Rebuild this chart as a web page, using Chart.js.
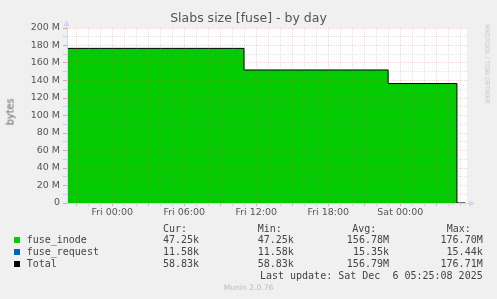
<!DOCTYPE html>
<html>
<head>
<meta charset="utf-8">
<script src="https://cdn.jsdelivr.net/npm/chart.js@4.4.1/dist/chart.umd.min.js"></script>
<style>
  html, body { margin: 0; padding: 0; background: #f0f0f0; }
  #wrap { position: relative; width: 497px; height: 299px; overflow: hidden; }
  #chart { position: absolute; left: 0; top: 0; }
  .txt { position: absolute; white-space: pre; font-family: "DejaVu Sans", sans-serif; color: #555; }
  .mono { position: absolute; white-space: pre; font-family: "DejaVu Sans Mono", monospace; font-size: 10px; line-height: 12px; color: #444; }
  .sw { position: absolute; width: 6px; height: 6px; left: 14px; }
</style>
</head>
<body>
<div id="wrap">
  <canvas id="chart" width="497" height="299"></canvas>
  <div class="txt" style="left:0;width:497px;top:10px;text-align:center;font-size:12.5px;line-height:15px;">Slabs size [fuse] - by day</div>
  <div class="txt" style="left:10px;top:112px;font-size:9.7px;color:#666;transform:translate(-50%,-50%) rotate(-90deg);">bytes</div>
  <div class="txt" style="left:487px;top:64px;font-size:6.8px;color:#c8c8c8;font-family:'DejaVu Sans Condensed','DejaVu Sans',sans-serif;font-stretch:condensed;transform:translate(-50%,-50%) rotate(90deg);">RRDTOOL / TOBI OETIKER</div>
  <div id="legend"></div>
  <div class="txt" style="left:0;width:497px;top:283px;text-align:center;font-size:7.6px;line-height:10px;color:#bbb;">Munin 2.0.76</div>
</div>
<script>
// time axis in hours, 0 = Fri 00:00
const hours = [-3.775, 10.98, 22.99, 28.72, 29.42];
const fuseInode = [176.70e6, 152.0e6, 136.5e6, 47.25e3, 47.25e3];
const fuseRequest = [15.44e3, 15.35e3, 15.30e3, 11.58e3, 11.58e3];
const totalBytes = [176.71e6, 152.02e6, 136.52e6, 58.83e3, 58.83e3];

const xTickHours = [0, 6, 12, 18, 24];
const xTickLabels = ['Fri 00:00', 'Fri 06:00', 'Fri 12:00', 'Fri 18:00', 'Sat 00:00'];

// legend table
const seriesNames = ['fuse_inode', 'fuse_request', 'Total'];
const seriesColors = ['#00cc00', '#0066b3', '#000000'];
const curVals = ['47.25k', '11.58k', '58.83k'];
const minVals = ['47.25k', '11.58k', '58.83k'];
const avgVals = ['156.78M', '15.35k', '156.79M'];
const maxVals = ['176.70M', '15.44k', '176.71M'];
const lastUpdate = 'Last update: Sat Dec  6 05:25:08 2025';

const MGRID = 'rgba(230,70,70,0.22)';
const GRID = 'rgba(130,130,130,0.22)';
const AXIS = '#cfd6f8';

function pts(vals) {
    return hours.map((h, i) => ({ x: h, y: vals[i] }));
}

// legend built as plain text
const legend = document.getElementById('legend');
function cell(text, css) {
    const d = document.createElement('div');
    d.className = 'mono';
    d.style.cssText = css;
    d.textContent = text;
    legend.appendChild(d);
}
cell('Cur:', 'left:163px;top:222.5px;');
cell('Min:', 'left:257.7px;top:222.5px;');
cell('Avg:', 'left:352.3px;top:222.5px;');
cell('Max:', 'left:446.7px;top:222.5px;');
seriesNames.forEach((name, i) => {
    const top = 233.5 + i * 12;
    const sw = document.createElement('div');
    sw.className = 'sw';
    sw.style.top = (top + 3.5) + 'px';
    sw.style.background = seriesColors[i];
    legend.appendChild(sw);
    cell(name, 'left:26.7px;top:' + top + 'px;');
    cell(curVals[i], 'left:163px;top:' + top + 'px;');
    cell(minVals[i], 'left:257.7px;top:' + top + 'px;');
    cell(avgVals[i], 'right:108px;top:' + top + 'px;');
    cell(maxVals[i], 'right:14.3px;top:' + top + 'px;');
});
cell(lastUpdate, 'right:14.3px;top:270px;');

// white canvas behind the plot + axis arrows
const plotDeco = {
    id: 'plotDeco',
    beforeDraw(chart) {
        const { ctx, chartArea: a } = chart;
        ctx.save();
        ctx.fillStyle = '#ffffff';
        ctx.fillRect(a.left, a.top, a.right - a.left, a.bottom - a.top);
        ctx.restore();
    },
    afterDraw(chart) {
        const { ctx, chartArea: a } = chart;
        ctx.save();
        ctx.strokeStyle = AXIS;
        ctx.fillStyle = AXIS;
        ctx.lineWidth = 1;
        ctx.beginPath();
        ctx.moveTo(a.left - 0.5, a.top);
        ctx.lineTo(a.left - 0.5, a.top - 4);
        ctx.moveTo(a.right, a.bottom + 0.5);
        ctx.lineTo(a.right + 4, a.bottom + 0.5);
        ctx.stroke();
        ctx.beginPath();
        ctx.moveTo(a.left - 3.5, a.top - 2);
        ctx.lineTo(a.left + 2.5, a.top - 2);
        ctx.lineTo(a.left - 0.5, a.top - 8);
        ctx.closePath();
        ctx.fill();
        ctx.beginPath();
        ctx.moveTo(a.right + 2, a.bottom - 2.5);
        ctx.lineTo(a.right + 2, a.bottom + 3.5);
        ctx.lineTo(a.right + 8, a.bottom + 0.5);
        ctx.closePath();
        ctx.fill();
        ctx.restore();
    }
};

const tickFont = { family: 'DejaVu Sans', size: 9.5 };

new Chart(document.getElementById('chart').getContext('2d'), {
    type: 'line',
    data: {
        datasets: [{
            label: 'fuse_inode',
            data: pts(fuseInode),
            stack: 'a',
            order: 1,
            stepped: true,
            fill: 'origin',
            backgroundColor: '#00cc00',
            borderWidth: 0,
            pointRadius: 0
        }, {
            label: 'fuse_request',
            data: pts(fuseRequest),
            stack: 'a',
            order: 1,
            stepped: true,
            fill: '-1',
            backgroundColor: '#0066b3',
            borderWidth: 0,
            pointRadius: 0
        }, {
            label: 'Total',
            data: pts(totalBytes),
            stack: 'b',
            order: 0,
            stepped: true,
            fill: false,
            borderColor: '#000000',
            borderWidth: 1,
            pointRadius: 0
        }]
    },
    options: {
        responsive: false,
        animation: false,
        events: [],
        layout: { padding: { left: 0, right: 30, top: 28, bottom: 76 } },
        plugins: { legend: { display: false }, tooltip: { enabled: false } },
        scales: {
            x: {
                type: 'linear',
                min: -3.775,
                max: 29.558,
                afterFit(scale) { scale.height = 20; },
                grid: {
                    z: 1,
                    color: c => (c.tick && c.tick.value % 3 === 0) ? MGRID : GRID,
                    tickColor: c => (c.tick && c.tick.value % 3 === 0) ? '#e8a0a0' : '#d0d0d0',
                    tickLength: 3
                },
                border: { color: AXIS, dash: [1, 1], z: 2 },
                ticks: {
                    stepSize: 1,
                    includeBounds: false,
                    autoSkip: false,
                    maxRotation: 0,
                    padding: 1,
                    color: '#555',
                    font: tickFont,
                    callback: v => {
                        const i = xTickHours.indexOf(v);
                        return i >= 0 ? xTickLabels[i] : '';
                    }
                }
            },
            y: {
                stacked: true,
                min: 0,
                max: 200e6,
                afterFit(scale) { scale.width = 67; },
                grid: {
                    z: 1,
                    color: c => (c.tick && c.tick.value % 20e6 === 0) ? MGRID : GRID,
                    tickColor: c => (c.tick && c.tick.value % 20e6 === 0) ? '#e8a0a0' : '#d0d0d0',
                    tickLength: 4
                },
                border: { color: AXIS, dash: [1, 1], z: 2 },
                ticks: {
                    stepSize: 10e6,
                    autoSkip: false,
                    padding: 3,
                    color: '#555',
                    font: tickFont,
                    callback: v => v % 20e6 === 0 ? (v === 0 ? '0' : (v / 1e6) + ' M') : ''
                }
            }
        }
    },
    plugins: [plotDeco]
});
</script>
</body>
</html>
